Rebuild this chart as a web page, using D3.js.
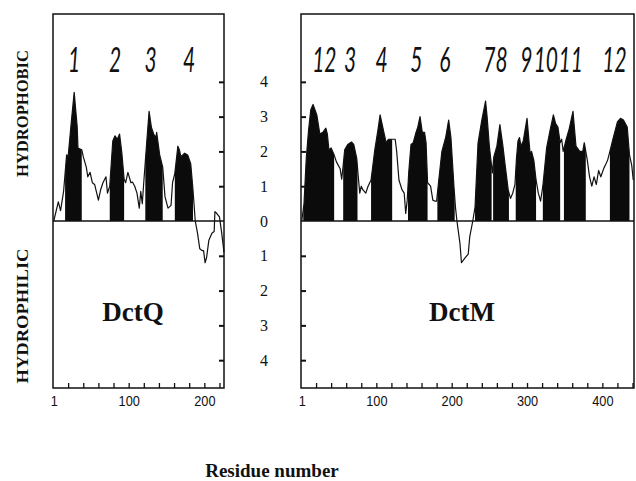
<!DOCTYPE html>
<html>
<head>
<meta charset="utf-8">
<script src="https://cdn.jsdelivr.net/npm/d3@7"></script>
<style>
  html, body { margin: 0; padding: 0; background: #fff; }
  svg { display: block; }
</style>
</head>
<body>
<svg id="chart" width="636" height="481"></svg>
<script>
// ---------------- DATA ----------------
const dctqResidues = [1,7,10,14,18,20,24,28,32,33,38,40,44,46,49,52,55,60,63,66,70,72,75,79,82,85,88,91,94,96,99,103,105,108,111,114,116,118,120,124,127,130,133,136,137,141,145,148,152,156,158,161,165,167,169,174,178,182,185,188,191,194,197,199,201,203,206,210,213,214,216,220,223,226];
const dctqValues   = [0,0.55,0.3,0.85,1.9,1.85,2.8,3.7,2.7,2.1,2.05,1.85,1.55,1.27,1.4,1.1,1.05,0.6,0.9,1.1,1.27,0.8,1.0,2.3,2.45,2.35,2.5,1.95,1.2,1.1,1.4,1.1,1.12,1.0,0.8,0.37,0.85,0.5,1.12,2.3,3.15,2.7,2.5,2.4,2.55,1.9,1.55,0.7,0.37,0.45,1.1,1.37,2.15,2.05,1.85,1.95,1.9,1.65,0.9,0,-0.35,-0.8,-0.85,-0.85,-1.2,-1.05,-0.55,-0.35,-0.3,0.27,0.23,0.12,-0.35,-0.9];
const dctqSegments = [[16,38],[75,94],[122,145],[161,185]];
const dctqTmLabels = ["1","2","3","4"];
const dctqTmLabelResidue = [28,82,129,180];

const dctmResidues = [1,4,7,10,13,16,21,25,29,33,35,37,40,44,47,52,54,56,58,62,67,70,74,76,78,80,82,86,89,93,98,102,105,110,113,116,122,125,127,130,134,137,139,141,143,146,149,152,155,158,161,164,166,168,172,175,178,180,183,187,192,196,199,203,205,207,211,213,218,222,224,228,231,235,240,245,247,250,254,256,260,264,268,271,275,278,281,284,286,288,290,292,295,300,304,306,309,312,315,318,321,326,331,335,338,341,344,346,348,352,356,361,365,370,374,376,378,380,383,386,389,392,395,398,402,405,407,410,414,417,420,424,428,433,436,439,441];
const dctmValues   = [0,0.5,1.8,2.6,3.2,3.35,3.05,2.5,2.55,2.67,2.5,2.05,2.1,1.9,1.7,1.5,1.2,1.6,2.05,2.2,2.27,2.2,1.8,1.27,0.8,1.0,0.9,0.8,1.0,1.18,2.05,2.6,3.05,2.55,2.25,2.35,2.35,2.35,2.0,1.18,0.9,0.8,0.22,0.6,1.4,2.2,2.25,2.5,2.7,3.0,2.55,2.55,2.25,1.1,1.0,0.6,0.57,0.57,1.2,2.0,2.4,2.9,2.4,1.0,0.4,0,-0.65,-1.2,-1.05,-0.95,-0.45,0,0.4,2.25,2.9,3.45,3.0,2.15,1.38,1.85,2.15,2.77,2.15,1.6,0.9,0.65,0.8,1.05,1.8,2.3,2.4,2.15,2.3,2.95,1.95,2.0,1.75,1.18,0.8,0.57,1.0,2.1,2.65,3.05,2.8,2.7,2.25,2.35,2.0,2.35,2.65,3.15,2.15,2.0,2.0,2.25,2.0,1.75,1.27,1.0,1.27,1.05,1.45,1.27,1.52,1.65,1.75,2.0,2.35,2.6,2.85,2.95,2.9,2.7,1.9,1.6,1.18];
const dctmSegments = [[3,44],[56,75],[93,121],[142,168],[181,204],[231,253],[255,276],[285,312],[321,344],[349,378],[410,436]];
const dctmTmLabels = ["12","3","4","5","6","78","9","10","11","12"];
const dctmTmLabelResidue = [31,65,107,153,191,258,299,325,358,416];

const yTickValues = [-4,-3,-2,-1,0,1,2,3,4];
const dctqXLabels = [1,100,200];
const dctmXLabels = [1,100,200,300,400];

// ---------------- DRAWING ----------------
const svg = d3.select("#chart");
const y = d3.scaleLinear().domain([-4.8, 5.95]).range([388, 14]);

function interp(res, vals, r) {
  for (let i = 0; i < res.length - 1; i++) {
    if (r >= res[i] && r <= res[i+1]) {
      const t = (r - res[i]) / (res[i+1] - res[i]);
      return vals[i] + t * (vals[i+1] - vals[i]);
    }
  }
  return vals[vals.length - 1];
}

function panel(opts) {
  const x = d3.scaleLinear().domain(opts.domain).range(opts.range);
  const g = svg.append("g");
  const pts = opts.res.map((r, i) => [r, opts.vals[i]]);

  const area = d3.area().x(d => x(d[0])).y0(y(0)).y1(d => y(d[1]));
  opts.segs.forEach(([s, e]) => {
    const seg = [[s, interp(opts.res, opts.vals, s)]]
      .concat(pts.filter(p => p[0] > s && p[0] < e))
      .concat([[e, interp(opts.res, opts.vals, e)]]);
    g.append("path").attr("d", area(seg)).attr("fill", "#0b0b0b");
  });

  g.append("line").attr("x1", opts.range[0]).attr("x2", opts.range[1])
    .attr("y1", y(0)).attr("y2", y(0)).attr("stroke", "#111").attr("stroke-width", 1.3);

  const line = d3.line().x(d => x(d[0])).y(d => y(d[1]));
  g.append("path").attr("d", line(pts)).attr("fill", "none")
    .attr("stroke", "#111").attr("stroke-width", 1.2).attr("stroke-linejoin", "round");

  g.append("rect").attr("x", opts.range[0]).attr("y", y.range()[1])
    .attr("width", opts.range[1] - opts.range[0]).attr("height", y.range()[0] - y.range()[1])
    .attr("fill", "none").attr("stroke", "#111").attr("stroke-width", 1.5);

  const yAxis = (opts.yTickSide === "right" ? d3.axisLeft(y) : d3.axisRight(y))
    .tickValues(yTickValues.filter(v => v !== 0)).tickSize(5).tickFormat("");
  const ya = g.append("g")
    .attr("transform", `translate(${opts.yTickSide === "right" ? opts.range[1] : opts.range[0]},0)`)
    .call(yAxis);
  ya.select(".domain").remove();
  ya.selectAll("line").attr("stroke", "#111").attr("stroke-width", 2);

  const xt = g.append("g").attr("transform", `translate(0,${y.range()[0]})`)
    .call(d3.axisTop(x).tickValues(d3.range(20, opts.domain[1], 20)).tickSize(5).tickFormat(""));
  xt.select(".domain").remove();
  xt.selectAll("line").attr("stroke", "#111").attr("stroke-width", 1.3);

  const xl = g.append("g").attr("transform", `translate(0,${y.range()[0]})`)
    .call(d3.axisBottom(x).tickValues(opts.xLabels).tickSize(0).tickPadding(7));
  xl.select(".domain").remove();
  xl.selectAll("text").attr("font-family", "Liberation Sans, Arial, sans-serif")
    .attr("font-size", 15).attr("fill", "#111")
    .attr("transform", "scale(0.85,1)");

  // TM numbers (condensed, italic)
  g.selectAll("text.tm").data(opts.tmLabels).enter().append("text")
    .attr("class", "tm")
    .attr("transform", (d, i) => `translate(${x(opts.tmPos[i])},72) scale(0.6,1)`)
    .attr("text-anchor", "middle")
    .attr("font-family", "Lato, Open Sans, Liberation Sans, sans-serif")
    .attr("font-style", "italic").attr("font-weight", 400).attr("font-size", 35).attr("fill", "#111")
    .text(d => d);

  g.append("text").attr("x", opts.nameX).attr("y", 321).attr("text-anchor", "middle")
    .attr("font-family", "Liberation Serif, Times New Roman, serif")
    .attr("font-weight", "bold").attr("font-size", 27).attr("fill", "#111")
    .text(opts.name);
}

panel({ domain: [0, 226], range: [53, 224], res: dctqResidues, vals: dctqValues,
        segs: dctqSegments, tmLabels: dctqTmLabels, tmPos: dctqTmLabelResidue,
        xLabels: dctqXLabels, yTickSide: "right", name: "DctQ", nameX: 133 });
panel({ domain: [0, 442], range: [301, 634], res: dctmResidues, vals: dctmValues,
        segs: dctmSegments, tmLabels: dctmTmLabels, tmPos: dctmTmLabelResidue,
        xLabels: dctmXLabels, yTickSide: "left", name: "DctM", nameX: 462 });

svg.append("g").selectAll("text").data(yTickValues).enter().append("text")
  .attr("x", 264).attr("y", d => y(d)).attr("dy", "0.35em")
  .attr("text-anchor", "middle")
  .attr("font-family", "Liberation Serif, Times New Roman, serif")
  .attr("font-size", 16).attr("fill", "#111")
  .text(d => Math.abs(d));

svg.append("text").attr("transform", "translate(28,113.5) rotate(-90)")
  .attr("text-anchor", "middle")
  .attr("font-family", "Liberation Serif, Times New Roman, serif")
  .attr("font-weight", "bold").attr("font-size", 16).attr("fill", "#111")
  .attr("textLength", 127).attr("lengthAdjust", "spacingAndGlyphs")
  .text("HYDROPHOBIC");
svg.append("text").attr("transform", "translate(28,316) rotate(-90)")
  .attr("text-anchor", "middle")
  .attr("font-family", "Liberation Serif, Times New Roman, serif")
  .attr("font-weight", "bold").attr("font-size", 16).attr("fill", "#111")
  .attr("textLength", 135).attr("lengthAdjust", "spacingAndGlyphs")
  .text("HYDROPHILIC");

svg.append("text").attr("x", 272).attr("y", 477).attr("text-anchor", "middle")
  .attr("font-family", "Liberation Serif, Times New Roman, serif")
  .attr("font-weight", "bold").attr("font-size", 19).attr("fill", "#111")
  .text("Residue number");
</script>
</body>
</html>
